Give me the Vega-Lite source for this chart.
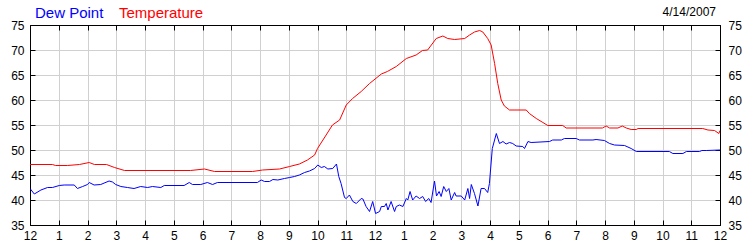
{
  "$schema": "https://vega.github.io/schema/vega-lite/v6.json",
  "width": 690,
  "height": 200,
  "autosize": {"type": "none"},
  "padding": {"left": 30, "top": 25, "right": 30, "bottom": 25},
  "background": "white",
  "title": {"text": "4/14/2007", "anchor": "end", "frame": "group", "fontSize": 12, "fontWeight": "normal", "font": "Liberation Sans", "color": "black", "offset": 6, "dx": -4, "dy": 20},
  "config": {
    "view": {"stroke": "black", "strokeWidth": 1},
    "axis": {"labelFont": "Liberation Sans", "labelFontSize": 12, "labelColor": "black", "domainColor": "black", "tickColor": "black", "gridColor": "#d0d0d0", "gridWidth": 1, "title": null}
  },
  "data": {"values": [
    {"h": 0, "v": 47.1, "s": "Temperature"},
    {"h": 0.78, "v": 47.1, "s": "Temperature"},
    {"h": 0.89, "v": 46.9, "s": "Temperature"},
    {"h": 1.3, "v": 46.9, "s": "Temperature"},
    {"h": 1.72, "v": 47.1, "s": "Temperature"},
    {"h": 2.06, "v": 47.5, "s": "Temperature"},
    {"h": 2.24, "v": 47.1, "s": "Temperature"},
    {"h": 2.66, "v": 47.1, "s": "Temperature"},
    {"h": 2.94, "v": 46.5, "s": "Temperature"},
    {"h": 3.29, "v": 45.9, "s": "Temperature"},
    {"h": 5.58, "v": 45.9, "s": "Temperature"},
    {"h": 6.07, "v": 46.2, "s": "Temperature"},
    {"h": 6.42, "v": 45.7, "s": "Temperature"},
    {"h": 7.74, "v": 45.7, "s": "Temperature"},
    {"h": 8.09, "v": 46.0, "s": "Temperature"},
    {"h": 8.68, "v": 46.2, "s": "Temperature"},
    {"h": 9.03, "v": 46.7, "s": "Temperature"},
    {"h": 9.37, "v": 47.2, "s": "Temperature"},
    {"h": 9.65, "v": 48, "s": "Temperature"},
    {"h": 9.9, "v": 49, "s": "Temperature"},
    {"h": 10.0, "v": 50.3, "s": "Temperature"},
    {"h": 10.3, "v": 53, "s": "Temperature"},
    {"h": 10.52, "v": 55, "s": "Temperature"},
    {"h": 10.77, "v": 56, "s": "Temperature"},
    {"h": 11.0, "v": 59, "s": "Temperature"},
    {"h": 11.22, "v": 60.3, "s": "Temperature"},
    {"h": 11.52, "v": 61.7, "s": "Temperature"},
    {"h": 11.81, "v": 63.3, "s": "Temperature"},
    {"h": 12.22, "v": 65.2, "s": "Temperature"},
    {"h": 12.43, "v": 65.7, "s": "Temperature"},
    {"h": 12.74, "v": 66.7, "s": "Temperature"},
    {"h": 13.09, "v": 68.3, "s": "Temperature"},
    {"h": 13.43, "v": 69, "s": "Temperature"},
    {"h": 13.65, "v": 69.9, "s": "Temperature"},
    {"h": 13.83, "v": 70, "s": "Temperature"},
    {"h": 14.13, "v": 72.3, "s": "Temperature"},
    {"h": 14.36, "v": 72.8, "s": "Temperature"},
    {"h": 14.53, "v": 72.3, "s": "Temperature"},
    {"h": 14.77, "v": 72.1, "s": "Temperature"},
    {"h": 15.12, "v": 72.3, "s": "Temperature"},
    {"h": 15.29, "v": 73, "s": "Temperature"},
    {"h": 15.46, "v": 73.6, "s": "Temperature"},
    {"h": 15.64, "v": 73.9, "s": "Temperature"},
    {"h": 15.75, "v": 73.6, "s": "Temperature"},
    {"h": 15.92, "v": 72.3, "s": "Temperature"},
    {"h": 16.04, "v": 71, "s": "Temperature"},
    {"h": 16.16, "v": 67.3, "s": "Temperature"},
    {"h": 16.27, "v": 63.3, "s": "Temperature"},
    {"h": 16.39, "v": 60, "s": "Temperature"},
    {"h": 16.5, "v": 58.8, "s": "Temperature"},
    {"h": 16.68, "v": 58, "s": "Temperature"},
    {"h": 17.26, "v": 58, "s": "Temperature"},
    {"h": 17.37, "v": 57.3, "s": "Temperature"},
    {"h": 17.61, "v": 56.3, "s": "Temperature"},
    {"h": 17.84, "v": 55.5, "s": "Temperature"},
    {"h": 18.01, "v": 54.9, "s": "Temperature"},
    {"h": 18.53, "v": 54.9, "s": "Temperature"},
    {"h": 18.65, "v": 54.4, "s": "Temperature"},
    {"h": 19.91, "v": 54.4, "s": "Temperature"},
    {"h": 20.04, "v": 54.8, "s": "Temperature"},
    {"h": 20.16, "v": 54.4, "s": "Temperature"},
    {"h": 20.45, "v": 54.4, "s": "Temperature"},
    {"h": 20.6, "v": 54.8, "s": "Temperature"},
    {"h": 20.74, "v": 54.4, "s": "Temperature"},
    {"h": 20.91, "v": 54.1, "s": "Temperature"},
    {"h": 21.09, "v": 54.1, "s": "Temperature"},
    {"h": 21.15, "v": 54.3, "s": "Temperature"},
    {"h": 23.4, "v": 54.3, "s": "Temperature"},
    {"h": 23.58, "v": 54, "s": "Temperature"},
    {"h": 23.81, "v": 53.9, "s": "Temperature"},
    {"h": 23.96, "v": 53.3, "s": "Temperature"},
    {"h": 24, "v": 53.9, "s": "Temperature"},
    {"h": 0, "v": 42.3, "s": "Dew Point"},
    {"h": 0.15, "v": 41.2, "s": "Dew Point"},
    {"h": 0.38, "v": 42, "s": "Dew Point"},
    {"h": 0.61, "v": 42.5, "s": "Dew Point"},
    {"h": 0.78, "v": 42.5, "s": "Dew Point"},
    {"h": 1.02, "v": 42.9, "s": "Dew Point"},
    {"h": 1.19, "v": 43, "s": "Dew Point"},
    {"h": 1.54, "v": 43, "s": "Dew Point"},
    {"h": 1.65, "v": 42.3, "s": "Dew Point"},
    {"h": 1.83, "v": 42.7, "s": "Dew Point"},
    {"h": 2.0, "v": 43.1, "s": "Dew Point"},
    {"h": 2.06, "v": 43.5, "s": "Dew Point"},
    {"h": 2.23, "v": 43, "s": "Dew Point"},
    {"h": 2.46, "v": 43.1, "s": "Dew Point"},
    {"h": 2.75, "v": 43.8, "s": "Dew Point"},
    {"h": 2.87, "v": 43.6, "s": "Dew Point"},
    {"h": 2.98, "v": 43.1, "s": "Dew Point"},
    {"h": 3.16, "v": 42.7, "s": "Dew Point"},
    {"h": 3.39, "v": 42.5, "s": "Dew Point"},
    {"h": 3.62, "v": 42.3, "s": "Dew Point"},
    {"h": 3.85, "v": 42.7, "s": "Dew Point"},
    {"h": 4.09, "v": 42.5, "s": "Dew Point"},
    {"h": 4.26, "v": 42.7, "s": "Dew Point"},
    {"h": 4.55, "v": 42.5, "s": "Dew Point"},
    {"h": 4.67, "v": 42.9, "s": "Dew Point"},
    {"h": 5.36, "v": 42.9, "s": "Dew Point"},
    {"h": 5.54, "v": 43.5, "s": "Dew Point"},
    {"h": 5.65, "v": 43.1, "s": "Dew Point"},
    {"h": 5.94, "v": 43.1, "s": "Dew Point"},
    {"h": 6.17, "v": 43.5, "s": "Dew Point"},
    {"h": 6.35, "v": 43.1, "s": "Dew Point"},
    {"h": 6.52, "v": 43.5, "s": "Dew Point"},
    {"h": 7.91, "v": 43.5, "s": "Dew Point"},
    {"h": 8.04, "v": 44, "s": "Dew Point"},
    {"h": 8.16, "v": 43.7, "s": "Dew Point"},
    {"h": 8.33, "v": 43.7, "s": "Dew Point"},
    {"h": 8.45, "v": 44.1, "s": "Dew Point"},
    {"h": 8.62, "v": 44, "s": "Dew Point"},
    {"h": 8.85, "v": 44.3, "s": "Dew Point"},
    {"h": 9.03, "v": 44.5, "s": "Dew Point"},
    {"h": 9.2, "v": 44.7, "s": "Dew Point"},
    {"h": 9.37, "v": 45, "s": "Dew Point"},
    {"h": 9.55, "v": 45.5, "s": "Dew Point"},
    {"h": 9.72, "v": 45.8, "s": "Dew Point"},
    {"h": 9.9, "v": 46.3, "s": "Dew Point"},
    {"h": 10.01, "v": 47, "s": "Dew Point"},
    {"h": 10.13, "v": 46.5, "s": "Dew Point"},
    {"h": 10.24, "v": 46.7, "s": "Dew Point"},
    {"h": 10.36, "v": 46.2, "s": "Dew Point"},
    {"h": 10.53, "v": 46.3, "s": "Dew Point"},
    {"h": 10.66, "v": 47.2, "s": "Dew Point"},
    {"h": 10.74, "v": 44.7, "s": "Dew Point"},
    {"h": 10.82, "v": 43.3, "s": "Dew Point"},
    {"h": 10.94, "v": 40.5, "s": "Dew Point"},
    {"h": 11.0, "v": 40.3, "s": "Dew Point"},
    {"h": 11.11, "v": 41, "s": "Dew Point"},
    {"h": 11.23, "v": 39.7, "s": "Dew Point"},
    {"h": 11.35, "v": 39.3, "s": "Dew Point"},
    {"h": 11.52, "v": 40.3, "s": "Dew Point"},
    {"h": 11.58, "v": 40.2, "s": "Dew Point"},
    {"h": 11.69, "v": 38.7, "s": "Dew Point"},
    {"h": 11.81, "v": 37.7, "s": "Dew Point"},
    {"h": 11.92, "v": 39.7, "s": "Dew Point"},
    {"h": 12.02, "v": 37.3, "s": "Dew Point"},
    {"h": 12.16, "v": 37.7, "s": "Dew Point"},
    {"h": 12.22, "v": 38.7, "s": "Dew Point"},
    {"h": 12.33, "v": 38.7, "s": "Dew Point"},
    {"h": 12.39, "v": 39.3, "s": "Dew Point"},
    {"h": 12.45, "v": 38, "s": "Dew Point"},
    {"h": 12.56, "v": 39.7, "s": "Dew Point"},
    {"h": 12.68, "v": 37.7, "s": "Dew Point"},
    {"h": 12.74, "v": 38.7, "s": "Dew Point"},
    {"h": 12.85, "v": 39, "s": "Dew Point"},
    {"h": 12.97, "v": 38.7, "s": "Dew Point"},
    {"h": 13.09, "v": 40.3, "s": "Dew Point"},
    {"h": 13.14, "v": 40, "s": "Dew Point"},
    {"h": 13.22, "v": 41.7, "s": "Dew Point"},
    {"h": 13.31, "v": 40, "s": "Dew Point"},
    {"h": 13.43, "v": 40.8, "s": "Dew Point"},
    {"h": 13.55, "v": 40.3, "s": "Dew Point"},
    {"h": 13.66, "v": 40.7, "s": "Dew Point"},
    {"h": 13.76, "v": 39.7, "s": "Dew Point"},
    {"h": 13.87, "v": 40.3, "s": "Dew Point"},
    {"h": 13.95, "v": 39.5, "s": "Dew Point"},
    {"h": 14.07, "v": 43.8, "s": "Dew Point"},
    {"h": 14.14, "v": 40.8, "s": "Dew Point"},
    {"h": 14.23, "v": 41.7, "s": "Dew Point"},
    {"h": 14.3, "v": 40.7, "s": "Dew Point"},
    {"h": 14.39, "v": 42.7, "s": "Dew Point"},
    {"h": 14.48, "v": 41.7, "s": "Dew Point"},
    {"h": 14.57, "v": 42.3, "s": "Dew Point"},
    {"h": 14.65, "v": 40, "s": "Dew Point"},
    {"h": 14.77, "v": 41.5, "s": "Dew Point"},
    {"h": 14.82, "v": 40.8, "s": "Dew Point"},
    {"h": 15.0, "v": 40.8, "s": "Dew Point"},
    {"h": 15.12, "v": 40, "s": "Dew Point"},
    {"h": 15.23, "v": 42.3, "s": "Dew Point"},
    {"h": 15.29, "v": 40.3, "s": "Dew Point"},
    {"h": 15.35, "v": 43.1, "s": "Dew Point"},
    {"h": 15.46, "v": 41.3, "s": "Dew Point"},
    {"h": 15.58, "v": 38.8, "s": "Dew Point"},
    {"h": 15.69, "v": 42.3, "s": "Dew Point"},
    {"h": 15.81, "v": 42.3, "s": "Dew Point"},
    {"h": 15.92, "v": 41.5, "s": "Dew Point"},
    {"h": 15.98, "v": 43.3, "s": "Dew Point"},
    {"h": 16.08, "v": 50.3, "s": "Dew Point"},
    {"h": 16.22, "v": 53.3, "s": "Dew Point"},
    {"h": 16.33, "v": 51.3, "s": "Dew Point"},
    {"h": 16.45, "v": 51.7, "s": "Dew Point"},
    {"h": 16.56, "v": 51.2, "s": "Dew Point"},
    {"h": 16.68, "v": 51.5, "s": "Dew Point"},
    {"h": 16.79, "v": 51.3, "s": "Dew Point"},
    {"h": 16.91, "v": 50.8, "s": "Dew Point"},
    {"h": 17.14, "v": 50.7, "s": "Dew Point"},
    {"h": 17.2, "v": 50.3, "s": "Dew Point"},
    {"h": 17.32, "v": 51.7, "s": "Dew Point"},
    {"h": 17.43, "v": 51.5, "s": "Dew Point"},
    {"h": 18.07, "v": 51.7, "s": "Dew Point"},
    {"h": 18.18, "v": 52, "s": "Dew Point"},
    {"h": 18.48, "v": 52, "s": "Dew Point"},
    {"h": 18.59, "v": 52.3, "s": "Dew Point"},
    {"h": 19.0, "v": 52.3, "s": "Dew Point"},
    {"h": 19.11, "v": 52, "s": "Dew Point"},
    {"h": 19.58, "v": 52, "s": "Dew Point"},
    {"h": 19.69, "v": 52.1, "s": "Dew Point"},
    {"h": 19.98, "v": 51.9, "s": "Dew Point"},
    {"h": 20.16, "v": 51.3, "s": "Dew Point"},
    {"h": 20.33, "v": 51, "s": "Dew Point"},
    {"h": 20.68, "v": 50.9, "s": "Dew Point"},
    {"h": 20.91, "v": 50.3, "s": "Dew Point"},
    {"h": 21.09, "v": 49.7, "s": "Dew Point"},
    {"h": 22.24, "v": 49.7, "s": "Dew Point"},
    {"h": 22.36, "v": 49.3, "s": "Dew Point"},
    {"h": 22.71, "v": 49.3, "s": "Dew Point"},
    {"h": 22.83, "v": 49.7, "s": "Dew Point"},
    {"h": 23.29, "v": 49.7, "s": "Dew Point"},
    {"h": 23.37, "v": 49.9, "s": "Dew Point"},
    {"h": 23.52, "v": 49.9, "s": "Dew Point"},
    {"h": 24, "v": 50, "s": "Dew Point"}
  ]},
  "layer": [
    {
      "mark": {"type": "line", "strokeWidth": 1, "clip": true},
      "encoding": {
        "x": {"field": "h", "type": "quantitative", "scale": {"domain": [0, 24], "nice": false, "zero": false},
              "axis": {"orient": "bottom", "values": [0,1,2,3,4,5,6,7,8,9,10,11,12,13,14,15,16,17,18,19,20,21,22,23,24], "labelExpr": "datum.value % 12 == 0 ? '12' : '' + (datum.value % 12)", "grid": true, "tickSize": -5, "labelPadding": 10, "labelFlush": false, "labelOverlap": false}},
        "y": {"field": "v", "type": "quantitative", "scale": {"domain": [35, 75], "nice": false, "zero": false},
              "axis": {"orient": "left", "values": [35,40,45,50,55,60,65,70,75], "grid": true, "tickSize": -5, "labelPadding": 11, "labelFlush": false}},
        "color": {"field": "s", "type": "nominal", "sort": ["Dew Point", "Temperature"],
                  "scale": {"domain": ["Dew Point", "Temperature"], "range": ["#0000ff", "#ff0000"]},
                  "legend": {"orient": "none", "legendX": -10, "legendY": -20, "direction": "horizontal", "title": null,
                             "symbolSize": 0, "symbolStrokeWidth": 0, "symbolOpacity": 0, "labelOffset": 0, "columnPadding": 0,
                             "labelFont": "Liberation Sans", "labelFontSize": 15,
                             "encode": {"labels": {"update": {"fill": {"signal": "datum.value == 'Temperature' ? '#ff0000' : '#0000ff'"}}}}}},
        "order": {"field": "h", "type": "quantitative"}
      }
    },
    {
      "mark": {"type": "line", "strokeOpacity": 0},
      "encoding": {
        "x": {"field": "h", "type": "quantitative",
              "axis": {"orient": "top", "values": [0,1,2,3,4,5,6,7,8,9,10,11,12,13,14,15,16,17,18,19,20,21,22,23,24], "labels": false, "grid": false, "tickSize": -5}},
        "y": {"field": "v", "type": "quantitative",
              "axis": {"orient": "right", "values": [35,40,45,50,55,60,65,70,75], "grid": false, "tickSize": -5, "labelPadding": 13, "labelFlush": false}},
        "detail": {"field": "s", "type": "nominal"},
        "order": {"field": "h", "type": "quantitative"}
      }
    }
  ],
  "resolve": {"axis": {"x": "independent", "y": "independent"}}
}
